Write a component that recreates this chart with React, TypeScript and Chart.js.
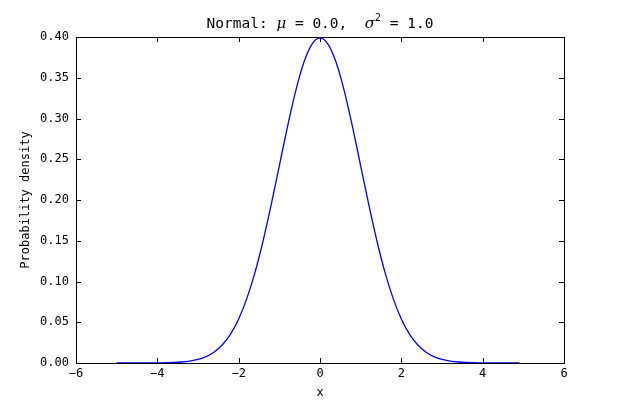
import React, { useEffect, useRef } from "react";
import { Chart, registerables } from "chart.js";

Chart.register(...registerables);

// x positions of the sampled curve (matplotlib-style arange from -5 to 4.9)
const xValues = [
  -5.0, -4.8, -4.6, -4.4, -4.2, -4.0, -3.8, -3.6, -3.4, -3.2,
  -3.0, -2.8, -2.6, -2.4, -2.2, -2.0, -1.8, -1.6, -1.4, -1.2,
  -1.0, -0.8, -0.6, -0.4, -0.2, 0.0, 0.2, 0.4, 0.6, 0.8,
  1.0, 1.2, 1.4, 1.6, 1.8, 2.0, 2.2, 2.4, 2.6, 2.8,
  3.0, 3.2, 3.4, 3.6, 3.8, 4.0, 4.2, 4.4, 4.6, 4.8, 4.9,
];

// probability density
const densityValues = [
  0.0000, 0.0000, 0.0000, 0.0000, 0.0001, 0.0001, 0.0003, 0.0006, 0.0012, 0.0024,
  0.0044, 0.0079, 0.0136, 0.0224, 0.0355, 0.0540, 0.0790, 0.1109, 0.1497, 0.1942,
  0.2420, 0.2897, 0.3332, 0.3683, 0.3910, 0.3989, 0.3910, 0.3683, 0.3332, 0.2897,
  0.2420, 0.1942, 0.1497, 0.1109, 0.0790, 0.0540, 0.0355, 0.0224, 0.0136, 0.0079,
  0.0044, 0.0024, 0.0012, 0.0006, 0.0003, 0.0001, 0.0001, 0.0000, 0.0000, 0.0000, 0.0000,
];

const xTickValues = [-6, -4, -2, 0, 2, 4, 6];
const yTickValues = [0, 0.05, 0.1, 0.15, 0.2, 0.25, 0.3, 0.35, 0.4];

const xAxisLabel = "x";
const yAxisLabel = "Probability density";
// title pieces: [text, isMathItalic, isSuperscript]
const titleParts: [string, boolean, boolean][] = [
  ["Normal: ", false, false],
  ["\u03bc", true, false],
  [" = 0.0,  ", false, false],
  ["\u03c3", true, false],
  ["2", false, true],
  [" = 1.0", false, false],
];

const MONO = "'DejaVu Sans Mono', monospace";

const decorPlugin = {
  id: "decor",
  beforeDatasetsDraw(chart: any) {
    const { ctx, chartArea, scales } = chart;
    const { left, right, top, bottom } = chartArea;
    const x = scales.x;
    const y = scales.y;
    ctx.save();
    ctx.strokeStyle = "#000";
    ctx.lineWidth = 1;
    ctx.beginPath();
    const tl = 5;
    for (const v of xTickValues) {
      const px = Math.round(x.getPixelForValue(v)) + 0.5;
      ctx.moveTo(px, bottom);
      ctx.lineTo(px, bottom - tl);
      ctx.moveTo(px, top);
      ctx.lineTo(px, top + tl);
    }
    for (const v of yTickValues) {
      const py = Math.round(y.getPixelForValue(v)) + 0.5;
      ctx.moveTo(left, py);
      ctx.lineTo(left + tl, py);
      ctx.moveTo(right, py);
      ctx.lineTo(right - tl, py);
    }
    ctx.stroke();
    ctx.strokeRect(left + 0.5, top + 0.5, right - left, bottom - top);
    ctx.restore();
  },
  afterDraw(chart: any) {
    const { ctx, chartArea } = chart;
    const { left, right, top, bottom } = chartArea;
    const cx = (left + right) / 2;
    const cy = (top + bottom) / 2;
    ctx.save();
    ctx.fillStyle = "#000";
    // axis labels
    ctx.font = `12px ${MONO}`;
    ctx.textAlign = "center";
    ctx.textBaseline = "middle";
    ctx.fillText(xAxisLabel, cx, 393);
    ctx.save();
    ctx.translate(26, cy);
    ctx.rotate(-Math.PI / 2);
    ctx.fillText(yAxisLabel, 0, 0);
    ctx.restore();

    // title
    const fontFor = (p: [string, boolean, boolean]) =>
      p[2] ? `10px ${MONO}` : p[1] ? `italic 15px 'DejaVu Serif', serif` : `14.5px ${MONO}`;
    let total = 0;
    for (const p of titleParts) {
      ctx.font = fontFor(p);
      total += ctx.measureText(p[0]).width;
    }
    let xp = cx - total / 2;
    ctx.textAlign = "left";
    ctx.textBaseline = "alphabetic";
    const base = 28;
    for (const p of titleParts) {
      ctx.font = fontFor(p);
      ctx.fillText(p[0], xp, p[2] ? base - 7 : base);
      xp += ctx.measureText(p[0]).width;
    }
    ctx.restore();
  },
};

export default function App() {
  const ref = useRef<HTMLCanvasElement | null>(null);
  useEffect(() => {
    if (!ref.current) return;
    const data = xValues.map((xv, i) => ({ x: xv, y: densityValues[i] }));
    const chart = new Chart(ref.current, {
      type: "line",
      data: {
        datasets: [
          {
            data,
            borderColor: "#0000ff",
            borderWidth: 1.3,
            pointRadius: 0,
            fill: false,
            cubicInterpolationMode: "monotone",
          },
        ],
      },
      options: {
        animation: false,
        responsive: false,
        devicePixelRatio: 1,
        layout: { padding: { top: 37, right: 63, left: 0, bottom: 0 } },
        plugins: { legend: { display: false }, title: { display: false }, tooltip: { enabled: false } },
        scales: {
          x: {
            type: "linear",
            min: -6,
            max: 6,
            afterBuildTicks: (s: any) => {
              s.ticks = xTickValues.map((v) => ({ value: v }));
            },
            afterFit: (s: any) => {
              s.height = 43;
            },
            grid: { display: false, drawTicks: false },
            border: { display: false },
            ticks: {
              padding: 4,
              color: "#000",
              font: { family: MONO, size: 12 },
              maxRotation: 0,
              autoSkip: false,
              callback: (v: any) => (Number(v) < 0 ? "\u2212" + Math.abs(Number(v)) : String(v)),
            },
          },
          y: {
            type: "linear",
            min: 0,
            max: 0.4,
            afterBuildTicks: (s: any) => {
              s.ticks = yTickValues.map((v) => ({ value: v }));
            },
            afterFit: (s: any) => {
              s.width = 76;
            },
            grid: { display: false, drawTicks: false },
            border: { display: false },
            ticks: {
              padding: 7,
              color: "#000",
              font: { family: MONO, size: 12 },
              autoSkip: false,
              callback: (v: any) => Number(v).toFixed(2),
            },
          },
        },
      },
      plugins: [decorPlugin],
    });
    return () => chart.destroy();
  }, []);
  return (
    <div style={{ position: "absolute", left: 0, top: 0, width: 627, height: 406, background: "#fff" }}>
      <canvas ref={ref} width={627} height={406} style={{ display: "block" }} />
    </div>
  );
}
